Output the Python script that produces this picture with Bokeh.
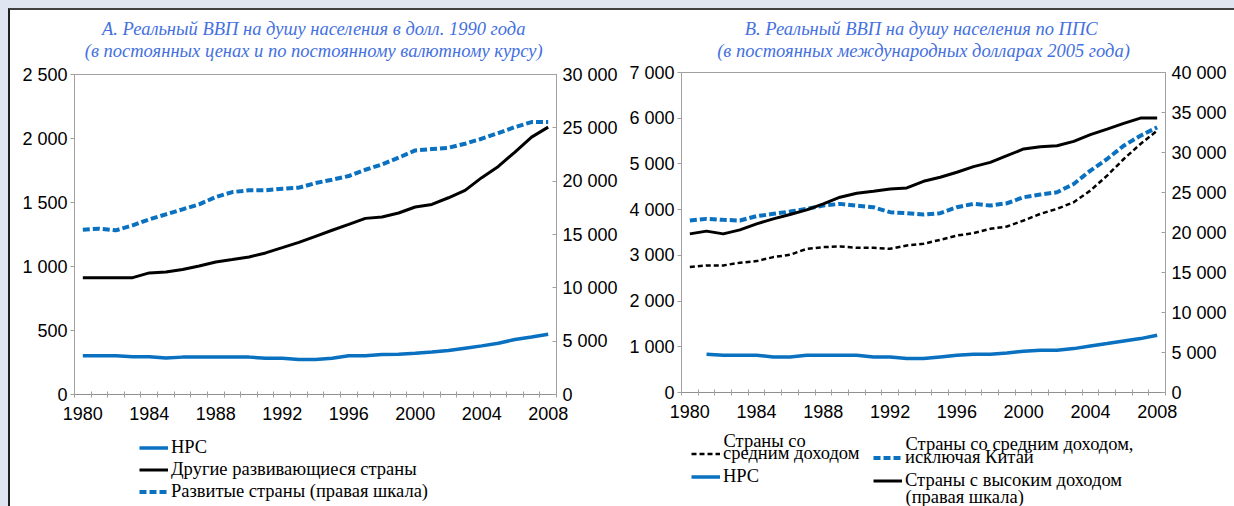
from bokeh.plotting import figure
from bokeh.models import (Range1d, LinearAxis, FixedTicker, CustomJSTickFormatter,
                          Legend, LegendItem, Label)
from bokeh.layouts import row, column
from bokeh.embed import file_html
from bokeh.resources import INLINE

# ---------------- data ----------------
years = list(range(1980, 2009))
year_labels = [1980, 1984, 1988, 1992, 1996, 2000, 2004, 2008]

# Panel A: real GDP per capita, 1990 USD
a_hpc = [302, 302, 302, 295, 294, 285, 292, 292, 292, 292, 292, 284, 284, 274, 274,
         283, 303, 303, 312, 314, 322, 332, 343, 362, 380, 400, 430, 450, 471]
a_other_dev = [913, 913, 913, 913, 950, 957, 976, 1004, 1035, 1054, 1074, 1106, 1147, 1189, 1236,
               1283, 1329, 1376, 1387, 1418, 1465, 1485, 1537, 1595, 1694, 1782, 1894, 2011, 2089]
a_developed = [15450, 15550, 15390, 15860, 16420, 16890, 17360, 17830, 18510, 18980, 19140, 19140,
               19290, 19390, 19820, 20140, 20480, 21070, 21570, 22200, 22880, 23010, 23130, 23510,
               23980, 24510, 25070, 25540, 25540]

# Panel B: real GDP per capita, PPP, 2005 international dollars
b_hpc_years = years[1:]
b_hpc = [837, 815, 815, 815, 779, 779, 815, 815, 815, 815, 779, 779, 742, 742,
         779, 815, 837, 837, 866, 902, 924, 924, 960, 1019, 1070, 1128, 1179, 1252]
b_mid = [2743, 2780, 2780, 2838, 2874, 2962, 3012, 3143, 3180, 3194, 3165, 3165, 3143, 3216, 3253,
         3340, 3434, 3485, 3580, 3631, 3762, 3908, 4017, 4162, 4417, 4744, 5108, 5436, 5727]
b_mid_ex_china = [3762, 3798, 3777, 3762, 3857, 3908, 3958, 4017, 4089, 4126, 4089, 4053, 3944, 3922,
                  3893, 3922, 4053, 4126, 4089, 4140, 4271, 4330, 4380, 4562, 4853, 5108, 5399, 5618, 5800]
b_high = [19830, 20170, 19830, 20330, 21080, 21700, 22250, 22830, 23580, 24410, 24910, 25160, 25450,
          25570, 26400, 26900, 27530, 28230, 28770, 29600, 30440, 30730, 30850, 31390, 32230, 32930,
          33640, 34300, 34300]

a_left_ticks = [0, 500, 1000, 1500, 2000, 2500]
a_right_ticks = [0, 5000, 10000, 15000, 20000, 25000, 30000]
b_left_ticks = [0, 1000, 2000, 3000, 4000, 5000, 6000, 7000]
b_right_ticks = [0, 5000, 10000, 15000, 20000, 25000, 30000, 35000, 40000]

a_title = ["A.  Реальный ВВП на душу населения в долл. 1990 года",
           "(в постоянных ценах  и по постоянному валютному курсу)"]
b_title = ["B.  Реальный ВВП на душу населения по ППС",
           "(в постоянных международных долларах 2005 года)"]

# ---------------- style ----------------
BLUE = "#0a70c0"
BLACK = "#000000"
AXIS = "#a0a0a0"
TITLE_BLUE = "#4470e0"
TICK_FONT = "Liberation Sans"
TICK_SIZE = "18px"
SERIF = "Liberation Serif"
LEG_SIZE = "18.5px"
FMT = r'return Math.round(tick).toString().replace(/\B(?=(\d{3})+(?!\d))/g, " ");'
TITLE_H = 52
CHART_H = 368
LEG_H = 76


def blank_fig(width, height):
    f = figure(width=width, height=height, output_backend="svg", toolbar_location=None, title=None,
               x_axis_type=None, y_axis_type=None,
               x_range=Range1d(years[0] - 0.5, years[-1] + 0.5), y_range=Range1d(0, 1),
               min_border=0, min_border_left=0, min_border_right=0, min_border_top=0,
               min_border_bottom=0, outline_line_color=None,
               background_fill_color="white", border_fill_color="white")
    f.xgrid.visible = False
    f.ygrid.visible = False
    return f


def style_y(ax, ticks, tin, tout, standoff):
    ax.ticker = FixedTicker(ticks=ticks)
    ax.formatter = CustomJSTickFormatter(code=FMT)
    ax.axis_line_color = AXIS
    ax.major_tick_line_color = AXIS
    ax.minor_tick_line_color = None
    ax.major_tick_in = tin
    ax.major_tick_out = tout
    ax.major_label_standoff = standoff
    ax.major_label_text_font = TICK_FONT
    ax.major_label_text_font_size = TICK_SIZE
    ax.major_label_text_color = "#000000"


def make_chart(width, mbl, mbr, mbt, mbb, left_max, right_max, left_ticks, right_ticks):
    p = figure(width=width, height=CHART_H, output_backend="svg", toolbar_location=None, title=None,
               x_range=Range1d(years[0] - 0.5, years[-1] + 0.5),
               y_range=Range1d(0, left_max),
               min_border_left=mbl, min_border_right=mbr, min_border_top=mbt, min_border_bottom=mbb,
               background_fill_color="white", border_fill_color="white")
    p.extra_y_ranges = {"right": Range1d(0, right_max)}
    p.xgrid.visible = False
    p.ygrid.visible = False
    p.outline_line_color = AXIS
    p.outline_line_width = 1

    xa = p.xaxis[0]
    bounds = [y - 0.5 for y in years] + [years[-1] + 0.5]
    xa.ticker = FixedTicker(ticks=year_labels, minor_ticks=bounds)
    xa.formatter = CustomJSTickFormatter(code="return tick.toFixed(0);")
    xa.axis_line_color = "#909090"
    xa.major_tick_line_color = None
    xa.major_tick_in = 0
    xa.major_tick_out = 0
    xa.minor_tick_line_color = AXIS
    xa.minor_tick_in = 3
    xa.minor_tick_out = 3
    xa.major_label_standoff = 9
    xa.major_label_text_font = TICK_FONT
    xa.major_label_text_font_size = TICK_SIZE
    xa.major_label_text_color = "#000000"

    style_y(p.yaxis[0], left_ticks, 0, 4, 3)
    ra = LinearAxis(y_range_name="right")
    style_y(ra, right_ticks, 4, 0, 6)
    p.add_layout(ra, "right")
    return p


def title_fig(width, lines, xc):
    # frames in a column are aligned with the chart frame, so xc is the frame centre
    f = blank_fig(width, TITLE_H)
    for t, yy in zip(lines, [34, 12]):
        f.add_layout(Label(x=xc, y=yy, text=t, x_units="screen", y_units="screen",
                           text_align="center", text_baseline="middle",
                           text_font=SERIF, text_font_style="italic",
                           text_font_size="18.5px", text_color=TITLE_BLUE))
    return f


def make_legend(items, loc, spacing):
    return Legend(items=items, location=loc, padding=0, spacing=spacing, margin=0,
                  glyph_width=29, glyph_height=21, label_height=21, label_standoff=3,
                  label_text_font=SERIF, label_text_font_size=LEG_SIZE, label_text_color="#000000",
                  border_line_color=None, background_fill_alpha=0, inactive_fill_alpha=0)


def text_label(f, txt, x, y):
    f.add_layout(Label(x=x, y=y, text=txt, x_units="screen", y_units="screen",
                       text_align="left", text_baseline="middle", text_font=SERIF,
                       text_font_size=LEG_SIZE, text_color="#000000"))


# ---------------- Panel A ----------------
ta = title_fig(610, a_title, 241.5)
pa = make_chart(610, 64, 63, 12, 36, 2500, 30000, a_left_ticks, a_right_ticks)
pa.line(years, a_hpc, line_color=BLUE, line_width=3.5)
pa.line(years, a_other_dev, line_color=BLACK, line_width=3)
pa.line(years, a_developed, y_range_name="right", line_color=BLUE, line_width=4, line_dash="7 3")

la = blank_fig(610, LEG_H)
la1 = la.line(years, a_hpc, line_color=BLUE, line_width=3.5, visible=False)
la2 = la.line(years, a_other_dev, line_color=BLACK, line_width=3, visible=False)
la3 = la.line(years, a_developed, line_color=BLUE, line_width=4, line_dash="7 3", visible=False)
la.add_layout(make_legend([LegendItem(label="НРС", renderers=[la1]),
                           LegendItem(label="Другие развивающиеся страны", renderers=[la2]),
                           LegendItem(label="Развитые страны (правая шкала)", renderers=[la3])],
                          (65, 4.5), 1))

# ---------------- Panel B ----------------
tb = title_fig(614, b_title, 242)
pb = make_chart(614, 61, 69, 10, 38, 7000, 40000, b_left_ticks, b_right_ticks)
pb.line(b_hpc_years, b_hpc, line_color=BLUE, line_width=3.5)
pb.line(years, b_mid, line_color=BLACK, line_width=2.5, line_dash="5 3")
pb.line(years, b_mid_ex_china, line_color=BLUE, line_width=4, line_dash="7 3")
pb.line(years, b_high, y_range_name="right", line_color=BLACK, line_width=3)

lb = blank_fig(614, LEG_H)
lb1 = lb.line(b_hpc_years, b_hpc, line_color=BLUE, line_width=3.5, visible=False)
lb2 = lb.line(years, b_mid, line_color=BLACK, line_width=2.5, line_dash="5 3", visible=False)
lb3 = lb.line(years, b_mid_ex_china, line_color=BLUE, line_width=4, line_dash="7 3", visible=False)
lb4 = lb.line(years, b_high, line_color=BLACK, line_width=3, visible=False)
lb.add_layout(make_legend([LegendItem(label="средним доходом", renderers=[lb2]),
                           LegendItem(label="НРС", renderers=[lb1])], (10, 19.5), 2))
lb.add_layout(make_legend([LegendItem(label="исключая Китай", renderers=[lb3]),
                           LegendItem(label="Страны с высоким доходом", renderers=[lb4])],
                          (192, 15.5), 2))
text_label(lb, "Страны со", 42, 66)
text_label(lb, "Страны со средним доходом,", 224, 63)
text_label(lb, "(правая шкала)", 224, 10)

inner = row(column(ta, pa, la), column(tb, pb, lb),
            styles={"border-top": "2px solid #404040", "border-left": "2px solid #202020"})
layout = row(inner, styles={"border-top": "8px solid #dfe5f1", "border-left": "8px solid #dfe5f1"})

open("out.html", "w").write(file_html(layout, INLINE))
